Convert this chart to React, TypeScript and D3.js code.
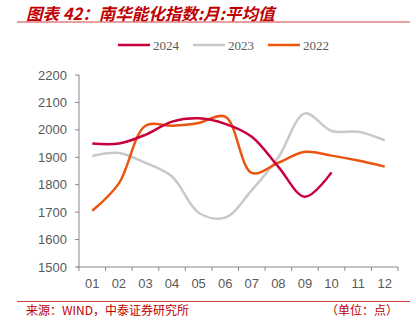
import React from "react";
import * as d3 from "d3";

const months = ["01","02","03","04","05","06","07","08","09","10","11","12"];
const yTicks = [1500,1600,1700,1800,1900,2000,2100,2200];
const s2024 = [1950, 1950, 1982, 2030, 2042, 2022, 1975, 1865, 1756, 1845];
const s2023 = [1905, 1916, 1880, 1830, 1698, 1680, 1780, 1900, 2060, 1996, 1993, 1962];
const s2022 = [1705, 1805, 2015, 2015, 2025, 2048, 1843, 1880, 1920, 1906, 1888, 1866];

const seriesList = [
  { name: "2024", values: s2024, color: "#C8003C" },
  { name: "2023", values: s2023, color: "#C9C9C9" },
  { name: "2022", values: s2022, color: "#EA5510" },
];

export default function App() {
  const W = 416, H = 330;
  const left = 79, right = 398, top = 75, bottom = 267;
  const x = d3.scaleBand<string>().domain(months).range([left, right]);
  const y = d3.scaleLinear().domain([1500, 2200]).range([bottom, top]);
  const line = d3.line<number>()
    .x((_, i) => (x(months[i]) as number) + x.bandwidth() / 2)
    .y((d) => y(d))
    .curve(d3.curveCatmullRom.alpha(0.5));
  const red = "#C00000";
  const txt = "#595959";
  const legendX = [118, 193, 268];
  const drawOrder = [1, 2, 0];
  return (
    <svg width={W} height={H} style={{ position: "absolute", left: 0, top: 0, background: "#fff" }}>
      <text x={26} y={19.5} fill={red} fontSize={16.5} fontWeight="bold" fontStyle="italic"
        fontFamily="'Noto Sans CJK SC', sans-serif">图表 42：南华能化指数:月:平均值</text>
      <line x1={17} x2={410} y1={22} y2={22} stroke="#D04040" strokeWidth={1} />

      {seriesList.map((s, i) => (
        <g key={s.name}>
          <line x1={legendX[i]} x2={legendX[i] + 32} y1={45} y2={45} stroke={s.color} strokeWidth={2.5} />
          <text x={legendX[i] + 35} y={49.5} fill={txt} fontSize={13}
            fontFamily="'Liberation Serif', 'DejaVu Serif', serif">{s.name}</text>
        </g>
      ))}

      {yTicks.map((t) => (
        <g key={t}>
          <line x1={left - 4} x2={left} y1={y(t)} y2={y(t)} stroke="#888" />
          <text x={left - 12} y={y(t) + 4.5} textAnchor="end" fill={txt} fontSize={13}
            fontFamily="'Liberation Sans', Arial, sans-serif">{t}</text>
        </g>
      ))}
      <line x1={left} x2={left} y1={top} y2={bottom} stroke="#888" />
      <line x1={left - 2} x2={right} y1={bottom} y2={bottom} stroke="#888" />
      {months.map((m, i) => (
        <g key={m}>
          <line x1={left + i * x.bandwidth()} x2={left + i * x.bandwidth()} y1={bottom} y2={bottom + 4} stroke="#888" />
          <text x={(x(m) as number) + x.bandwidth() / 2} y={bottom + 21} textAnchor="middle" fill={txt} fontSize={13}
            fontFamily="'Liberation Sans', Arial, sans-serif">{m}</text>
        </g>
      ))}
      <line x1={right} x2={right} y1={bottom} y2={bottom + 4} stroke="#888" />

      {drawOrder.map((i) => {
        const s = seriesList[i];
        return <path key={s.name} d={line(s.values) || ""} fill="none" stroke={s.color} strokeWidth={2.5} />;
      })}

      <line x1={17} x2={410} y1={301.5} y2={301.5} stroke="#D04040" strokeWidth={1} />
      <text x={26} y={315} fill={red} fontSize={12} fontFamily="'Noto Sans CJK SC', sans-serif">来源：WIND，中泰证券研究所</text>
      <text x={398} y={315} textAnchor="end" fill={red} fontSize={12} fontFamily="'Noto Sans CJK SC', sans-serif">（单位：点）</text>
    </svg>
  );
}
